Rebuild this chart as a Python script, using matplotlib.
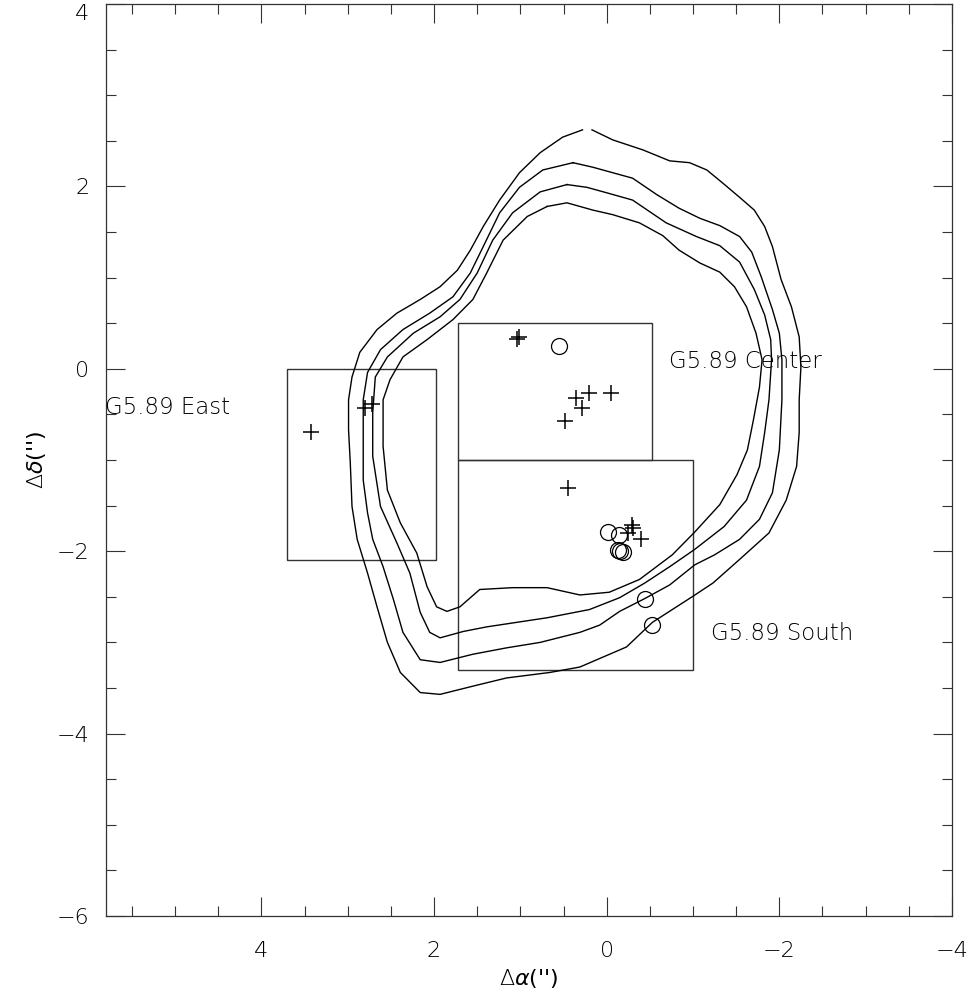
#!/usr/bin/env python3

from matplotlib import pyplot as plt
from matplotlib.patches import Rectangle
from matplotlib.ticker import MultipleLocator

out_file = 'out.png'

# Contour levels, outermost first (offsets in arcsec: dRA, dDec)
c1_x = [0.17, -0.07, -0.42, -0.73, -0.96, -1.16, -1.34, -1.54, -1.71, -1.83, -1.92, -2.02,
        -2.14, -2.23, -2.25, -2.23, -2.23, -2.20, -2.08, -1.88, -1.54, -1.23, -0.99, -0.53,
        -0.23, 0.31, 0.66, 1.16, 1.55, 1.93, 2.16, 2.39, 2.54, 2.66, 2.77, 2.89, 2.95, 2.97,
        2.99, 2.99, 2.95, 2.86, 2.66, 2.43, 2.16, 1.93, 1.73, 1.58, 1.43, 1.24, 1.01, 0.77,
        0.51, 0.28]
c1_y = [2.62, 2.51, 2.40, 2.28, 2.26, 2.18, 2.04, 1.88, 1.74, 1.56, 1.34, 0.98,
        0.68, 0.35, 0.02, -0.34, -0.70, -1.07, -1.44, -1.80, -2.09, -2.35, -2.50, -2.78,
        -3.05, -3.27, -3.33, -3.39, -3.48, -3.57, -3.55, -3.33, -3.00, -2.61, -2.24, -1.87,
        -1.51, -1.03, -0.67, -0.34, -0.09, 0.18, 0.43, 0.61, 0.76, 0.90, 1.08, 1.30, 1.56,
        1.85, 2.15, 2.37, 2.54, 2.62]

c2_x = [0.39, 0.16, -0.07, -0.30, -0.58, -0.84, -1.08, -1.31, -1.54, -1.68, -1.79, -1.92,
        -2.00, -2.03, -2.03, -2.00, -1.92, -1.77, -1.54, -1.25, -1.02, -0.73, -0.44, -0.15,
        0.08, 0.31, 0.77, 1.16, 1.55, 1.93, 2.16, 2.36, 2.47, 2.59, 2.71, 2.77, 2.82, 2.82,
        2.82, 2.77, 2.62, 2.36, 2.05, 1.78, 1.58, 1.43, 1.24, 1.01, 0.74, 0.39]
c2_y = [2.26, 2.21, 2.15, 2.09, 1.91, 1.76, 1.65, 1.57, 1.45, 1.28, 1.01, 0.65,
        0.39, 0.10, -0.34, -0.89, -1.36, -1.65, -1.87, -2.04, -2.15, -2.37, -2.52, -2.66,
        -2.81, -2.89, -3.00, -3.06, -3.13, -3.22, -3.19, -2.89, -2.53, -2.17, -1.87, -1.58,
        -1.22, -0.67, -0.34, -0.04, 0.21, 0.43, 0.61, 0.79, 1.05, 1.34, 1.71, 1.99, 2.18, 2.26]

c3_x = [0.46, 0.23, 0.00, -0.30, -0.69, -1.04, -1.31, -1.54, -1.71, -1.83, -1.90, -1.91,
        -1.88, -1.83, -1.77, -1.62, -1.36, -1.02, -0.73, -0.44, -0.15, 0.20, 0.69, 1.39,
        1.66, 1.93, 2.05, 2.16, 2.28, 2.43, 2.62, 2.71, 2.71, 2.68, 2.54, 2.24, 1.93, 1.70,
        1.50, 1.32, 1.09, 0.77, 0.46]
c3_y = [2.02, 1.99, 1.93, 1.85, 1.60, 1.45, 1.35, 1.17, 0.87, 0.59, 0.32, 0.10,
        -0.34, -0.70, -1.07, -1.44, -1.73, -1.98, -2.17, -2.35, -2.51, -2.64, -2.73, -2.83,
        -2.88, -2.95, -2.89, -2.67, -2.24, -1.91, -1.51, -0.96, -0.48, -0.09, 0.13, 0.39,
        0.57, 0.76, 1.05, 1.41, 1.71, 1.94, 2.02]

c4_x = [0.69, 0.46, 0.16, -0.07, -0.38, -0.65, -0.84, -1.08, -1.31, -1.48, -1.62, -1.73,
        -1.80, -1.77, -1.70, -1.63, -1.51, -1.31, -1.02, -0.76, -0.38, -0.03, 0.31, 0.69,
        1.09, 1.47, 1.70, 1.85, 1.97, 2.08, 2.20, 2.39, 2.54, 2.59, 2.59, 2.51, 2.36, 2.08,
        1.78, 1.55, 1.39, 1.20, 0.92, 0.69]
c4_y = [1.78, 1.82, 1.74, 1.69, 1.60, 1.46, 1.30, 1.16, 1.06, 0.90, 0.68, 0.39,
        0.10, -0.20, -0.56, -0.89, -1.16, -1.49, -1.79, -2.04, -2.31, -2.45, -2.48, -2.40,
        -2.40, -2.42, -2.61, -2.66, -2.61, -2.39, -2.02, -1.69, -1.33, -0.85, -0.34, -0.12,
        0.13, 0.32, 0.54, 0.76, 1.05, 1.41, 1.67, 1.78]

# Sources marked with plus signs
plus_x = [3.42, 2.80, 2.72, 1.02, 1.04, 0.36, 0.21, -0.05, 0.29, 0.48,
          0.45, -0.29, -0.30, -0.25, -0.40]
plus_y = [-0.69, -0.43, -0.39, 0.35, 0.33, -0.32, -0.26, -0.27, -0.43, -0.57,
          -1.31, -1.71, -1.75, -1.80, -1.87]

# Sources marked with circles
circ_x = [0.55, -0.02, -0.14, -0.13, -0.16, -0.19, -0.44, -0.53]
circ_y = [0.25, -1.79, -1.82, -1.99, -2.00, -2.01, -2.52, -2.81]

# Fields: box corners and label anchor
box_names = ['G5.89 East', 'G5.89 Center', 'G5.89 South']
box_x0 = [3.70, 1.72, 1.72]
box_x1 = [1.98, -0.52, -1.00]
box_y0 = [-2.10, -1.00, -3.30]
box_y1 = [0.00, 0.50, -1.00]
label_x = [5.81, -0.72, -1.21]
label_y = [-0.42, 0.08, -2.90]


def plot():
    plt.rcParams['font.family'] = 'DejaVu Sans'
    plt.rcParams['font.weight'] = 'light'
    fig = plt.figure(figsize=(9.74, 9.99), dpi=100)
    ax = fig.add_axes([0.1088, 0.0831, 0.8686, 0.9129])

    # Contours
    for cx, cy in [(c1_x, c1_y), (c2_x, c2_y), (c3_x, c3_y), (c4_x, c4_y)]:
        ax.plot(cx, cy, color='black', linewidth=1.0)

    # Field boxes and labels
    for i, name in enumerate(box_names):
        ax.add_patch(Rectangle((box_x1[i], box_y0[i]), box_x0[i] - box_x1[i],
                               box_y1[i] - box_y0[i], fill=False,
                               edgecolor='#333333', linewidth=1.0))
        ax.text(label_x[i], label_y[i], name, fontsize=16.5, ha='left',
                va='center', color='black')

    # Sources
    ax.plot(plus_x, plus_y, linestyle='none', marker='+', markersize=11,
            markeredgewidth=1.1, color='black')
    ax.plot(circ_x, circ_y, linestyle='none', marker='o', markersize=11.5,
            markerfacecolor='none', markeredgewidth=0.9, markeredgecolor='black')

    ax.set_xlim(5.8, -4)
    ax.set_ylim(-6, 4)
    ax.xaxis.set_major_locator(MultipleLocator(2))
    ax.xaxis.set_minor_locator(MultipleLocator(0.5))
    ax.yaxis.set_major_locator(MultipleLocator(2))
    ax.yaxis.set_minor_locator(MultipleLocator(0.5))
    ax.tick_params(which='both', direction='in', top=True, right=True,
                   width=0.8, color='#333333', labelsize=16, labelcolor='black')
    ax.tick_params(which='major', length=13.5)
    ax.tick_params(which='minor', length=7)
    ax.tick_params(axis='x', pad=18)
    ax.tick_params(axis='y', pad=12)
    for s in ax.spines.values():
        s.set_linewidth(0.9)
        s.set_color('#333333')

    ax.set_xlabel("$\\Delta\\alpha$('')", fontsize=16, labelpad=4)
    ax.set_ylabel("$\\Delta\\delta$('')", fontsize=16, labelpad=6)

    # Keep the top y label inside the figure
    fig.canvas.draw()
    for lbl in ax.get_yticklabels():
        if lbl.get_position()[1] == 4:
            lbl.set_va('top')

    plt.savefig(out_file, dpi=100)


if __name__ == '__main__':
    plot()
